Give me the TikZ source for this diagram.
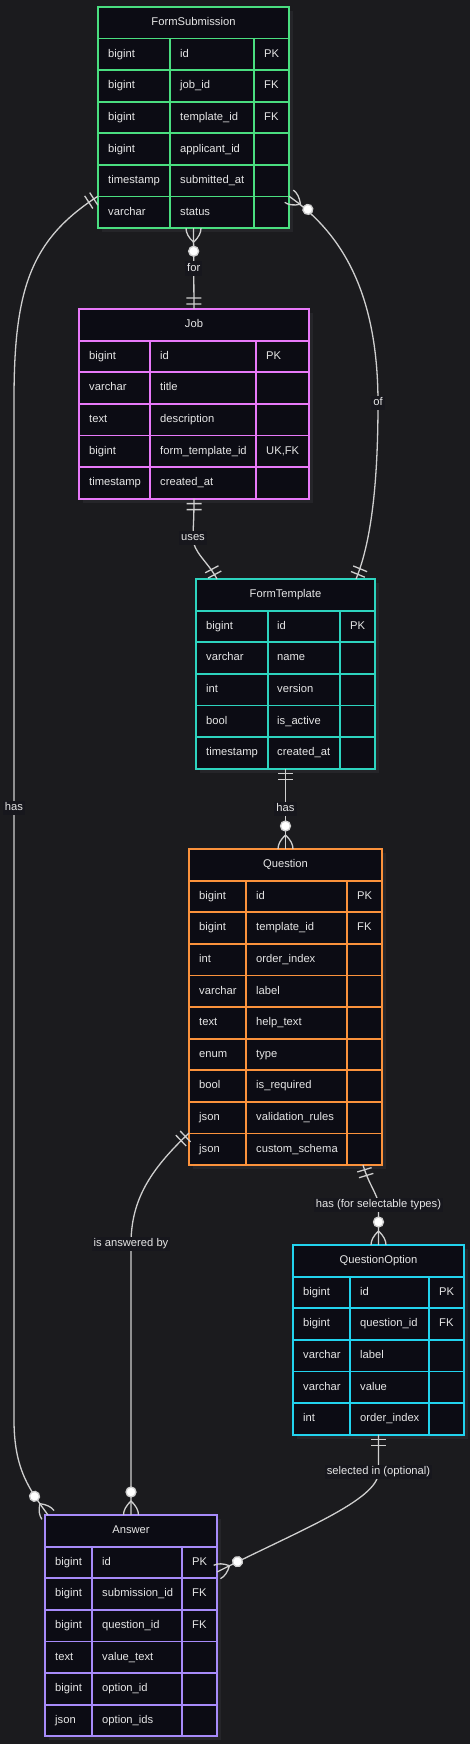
\documentclass[tikz,border=0pt]{standalone}
\usepackage{fontspec}
\setmainfont{Liberation Sans}
\usetikzlibrary{calc,shadows,decorations.markings}

\definecolor{canvas}{HTML}{1B1B1E}
\definecolor{boxfill}{HTML}{0C0C14}
\definecolor{shade}{HTML}{252529}
\definecolor{ink}{HTML}{E6E6E6}
\definecolor{wire}{HTML}{CFCFCF}
\definecolor{tagfill}{HTML}{17171D}
\definecolor{fsgreen}{HTML}{4ADE80}
\definecolor{jobpink}{HTML}{E879F9}
\definecolor{tplteal}{HTML}{2DD4BF}
\definecolor{qorange}{HTML}{FB923C}
\definecolor{optcyan}{HTML}{22D3EE}
\definecolor{anspurple}{HTML}{A78BFA}

\begin{document}
\begin{tikzpicture}[x=1pt,y=-1pt,
    entity/.style={rectangle,fill=boxfill,line width=1.8pt,anchor=north west,inner sep=0pt,outer sep=0pt,
        drop shadow={shadow xshift=4pt,shadow yshift=-4pt,fill=shade,opacity=1}},
    cellline/.style={line width=1.8pt},
    head/.style={text=ink,inner sep=0pt,font=\fontsize{11.2}{13}\selectfont,text height=8.1pt,text depth=2.2pt},
    cell/.style={head,anchor=west},
    rel/.style={draw=wire,line width=1.3pt},
    tag/.style={fill=tagfill,text=ink,inner sep=2pt,font=\fontsize{11.2}{13}\selectfont,text height=8.1pt,text depth=2.2pt},
    one at start/.style={postaction={decorate,decoration={markings,mark=at position 0.01pt with {
        \draw[wire,line width=1.3pt] (5pt,-7.5pt) -- (5pt,7.5pt) (11pt,-7.5pt) -- (11pt,7.5pt);}}}},
    one at end/.style={postaction={decorate,decoration={markings,mark=at position -0.01pt with {
        \draw[wire,line width=1.3pt] (-5pt,-7.5pt) -- (-5pt,7.5pt) (-11pt,-7.5pt) -- (-11pt,7.5pt);}}}},
    many at start/.style={postaction={decorate,decoration={markings,mark=at position 0.01pt with {
        \draw[wire,line width=1.3pt] (0pt,7.5pt) .. controls (4.67pt,7.5pt) and (9.33pt,5pt) .. (14pt,0pt)
            .. controls (9.33pt,-5pt) and (4.67pt,-7.5pt) .. (0pt,-7.5pt);
        \draw[wire,line width=1.3pt,fill=white] (23pt,0pt) circle (5pt);}}}},
    many at end/.style={postaction={decorate,decoration={markings,mark=at position -0.01pt with {
        \draw[wire,line width=1.3pt] (0pt,7.5pt) .. controls (-4.67pt,7.5pt) and (-9.33pt,5pt) .. (-14pt,0pt)
            .. controls (-9.33pt,-5pt) and (-4.67pt,-7.5pt) .. (0pt,-7.5pt);
        \draw[wire,line width=1.3pt,fill=white] (-23pt,0pt) circle (5pt);}}}}]

    \useasboundingbox (0,0) rectangle (470,1744);
    \fill[canvas] (0,0) rectangle (470,1744);

    % FormSubmission
    \node[entity,draw=fsgreen,minimum width=191,minimum height=221.2] (fs) at (98,7) {};
    \node[head] at (193.5,22.8) {FormSubmission};
    \draw[cellline,fsgreen] (170,38.6) -- (170,228.2) (254,38.6) -- (254,228.2);
    \foreach \ty/\nm/\ky [count=\i] in {bigint/id/PK,bigint/job\_id/FK,bigint/template\_id/FK,
            bigint/applicant\_id/{},timestamp/submitted\_at/{},varchar/status/{}}{
        \draw[cellline,fsgreen] (98,7+31.6*\i) -- (289,7+31.6*\i);
        \node[cell] at (108,22.8+31.6*\i) {\ty};
        \node[cell] at (180,22.8+31.6*\i) {\nm};
        \node[cell] at (264,22.8+31.6*\i) {\ky};
    }

    % Job
    \node[entity,draw=jobpink,minimum width=230,minimum height=189.6] (job) at (79,309) {};
    \node[head] at (194,324.8) {Job};
    \draw[cellline,jobpink] (150,340.6) -- (150,498.6) (256,340.6) -- (256,498.6);
    \foreach \ty/\nm/\ky [count=\i] in {bigint/id/PK,varchar/title/{},text/description/{},
            bigint/form\_template\_id/{UK,FK},timestamp/created\_at/{}}{
        \draw[cellline,jobpink] (79,309+31.6*\i) -- (309,309+31.6*\i);
        \node[cell] at (89,324.8+31.6*\i) {\ty};
        \node[cell] at (160,324.8+31.6*\i) {\nm};
        \node[cell] at (266,324.8+31.6*\i) {\ky};
    }

    % FormTemplate
    \node[entity,draw=tplteal,minimum width=179,minimum height=189.6] (tpl) at (196,579) {};
    \node[head] at (285.5,594.8) {FormTemplate};
    \draw[cellline,tplteal] (268,610.6) -- (268,768.6) (340,610.6) -- (340,768.6);
    \foreach \ty/\nm/\ky [count=\i] in {bigint/id/PK,varchar/name/{},int/version/{},
            bool/is\_active/{},timestamp/created\_at/{}}{
        \draw[cellline,tplteal] (196,579+31.6*\i) -- (375,579+31.6*\i);
        \node[cell] at (206,594.8+31.6*\i) {\ty};
        \node[cell] at (277,594.8+31.6*\i) {\nm};
        \node[cell] at (350,594.8+31.6*\i) {\ky};
    }

    % Question
    \node[entity,draw=qorange,minimum width=193,minimum height=316] (q) at (189,849) {};
    \node[head] at (285.5,864.8) {Question};
    \draw[cellline,qorange] (246,880.6) -- (246,1165) (347,880.6) -- (347,1165);
    \foreach \ty/\nm/\ky [count=\i] in {bigint/id/PK,bigint/template\_id/FK,int/order\_index/{},
            varchar/label/{},text/help\_text/{},enum/type/{},bool/is\_required/{},
            json/validation\_rules/{},json/custom\_schema/{}}{
        \draw[cellline,qorange] (189,849+31.6*\i) -- (382,849+31.6*\i);
        \node[cell] at (199,864.8+31.6*\i) {\ty};
        \node[cell] at (256,864.8+31.6*\i) {\nm};
        \node[cell] at (357,864.8+31.6*\i) {\ky};
    }

    % QuestionOption
    \node[entity,draw=optcyan,minimum width=171,minimum height=189.6] (qopt) at (293,1245) {};
    \node[head] at (378.5,1260.8) {QuestionOption};
    \draw[cellline,optcyan] (350,1276.6) -- (350,1434.6) (429,1276.6) -- (429,1434.6);
    \foreach \ty/\nm/\ky [count=\i] in {bigint/id/PK,bigint/question\_id/FK,varchar/label/{},
            varchar/value/{},int/order\_index/{}}{
        \draw[cellline,optcyan] (293,1245+31.6*\i) -- (464,1245+31.6*\i);
        \node[cell] at (303,1260.8+31.6*\i) {\ty};
        \node[cell] at (360,1260.8+31.6*\i) {\nm};
        \node[cell] at (439,1260.8+31.6*\i) {\ky};
    }

    % Answer
    \node[entity,draw=anspurple,minimum width=172,minimum height=221.2] (ans) at (45,1515) {};
    \node[head] at (131,1530.8) {Answer};
    \draw[cellline,anspurple] (92,1546.6) -- (92,1736.2) (182,1546.6) -- (182,1736.2);
    \foreach \ty/\nm/\ky [count=\i] in {bigint/id/PK,bigint/submission\_id/FK,bigint/question\_id/FK,
            text/value\_text/{},bigint/option\_id/{},json/option\_ids/{}}{
        \draw[cellline,anspurple] (45,1515+31.6*\i) -- (217,1515+31.6*\i);
        \node[cell] at (55,1530.8+31.6*\i) {\ty};
        \node[cell] at (102,1530.8+31.6*\i) {\nm};
        \node[cell] at (192,1530.8+31.6*\i) {\ky};
    }

    % relations
    \draw[rel,many at start,one at end] (fs.south) -- node[tag]{for} (job.north);
    \draw[rel,one at start,one at end] (job.south) .. controls (194,520) and (193,530) .. (193,538) node[tag]{uses}
        .. controls (193,552) and (208,562) .. ($(tpl.north west)+(21,0)$);
    \draw[rel,many at start,one at end] ($(fs.south east)+(0,-32)$) .. controls (340,232) and (378,290) .. (378,403) node[tag]{of}
        .. controls (378,490) and (370,545) .. ($(tpl.north east)+(-19,0)$);
    \draw[rel,one at start,many at end] ($(fs.south west)+(0,-32)$) .. controls (30,240) and (14,290) .. (14,400)
        -- (14,808) node[tag]{has} -- (14,1420) .. controls (14,1470) and (30,1490) .. ($(ans.north west)+(3,0)$);
    \draw[rel,one at start,many at end] (tpl.south) -- node[tag]{has} (q.north);
    \draw[rel,one at start,many at end] ($(q.south east)+(-19,0)$) .. controls (369,1185) and (378,1195) .. (378.5,1205)
        node[tag]{has (for selectable types)} -- (qopt.north);
    \draw[rel,one at start,many at end] ($(q.south west)+(0,-32)$) .. controls (150,1170) and (131,1200) .. (131,1244)
        node[tag]{is answered by} -- (ans.north);
    \draw[rel,one at start,many at end] (qopt.south) -- (378.5,1472) node[tag]{selected in (optional)}
        .. controls (378.5,1500) and (300,1530) .. ($(ans.north east)+(0,57)$);
\end{tikzpicture}
\end{document}
